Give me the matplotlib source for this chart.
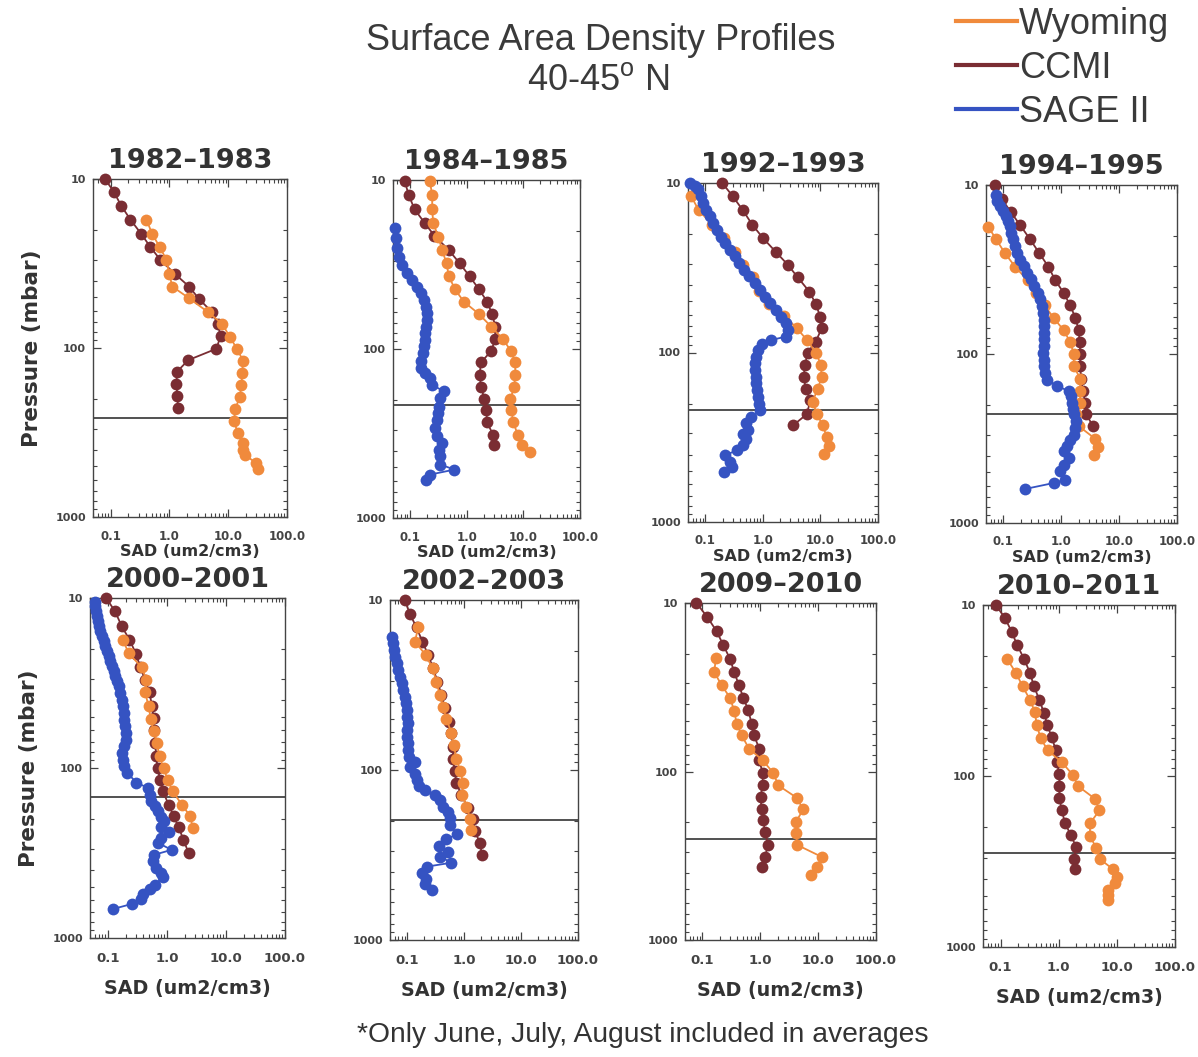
import matplotlib
matplotlib.use("Agg")
import matplotlib.pyplot as plt
from matplotlib.lines import Line2D
from matplotlib.ticker import NullFormatter

plt.rcParams['font.family'] = ['DejaVu Sans']
plt.rcParams['mathtext.fontset'] = 'custom'
plt.rcParams['mathtext.rm'] = 'Liberation Sans'

# ---- data: SAD (um2/cm3) vs pressure (mbar) ----
years = ["1982–1983", "1984–1985", "1992–1993", "1994–1995",
         "2000–2001", "2002–2003", "2009–2010", "2010–2011"]

# tropopause pressure for each panel
tropopause = [261, 214, 217, 226, 148, 197, 250, 281]

# 1982-1983
ccmi_8283_sad = [0.080, 0.113, 0.151, 0.217, 0.33, 0.475, 0.70, 1.23, 2.16, 3.2, 5.2, 6.7, 7.4, 6.3, 2.08, 1.35, 1.31, 1.37, 1.39]
ccmi_8283_p = [10, 11.9, 14.4, 17.4, 21.1, 25.3, 30.1, 36.4, 43.3, 51.4, 60.9, 72.5, 85, 101, 118, 138, 164, 193, 228]
wy_8283_sad = [0.406, 0.51, 0.685, 0.89, 0.99, 1.12, 2.16, 4.55, 7.9, 10.6, 14.2, 17.9, 17.3, 16.8, 15.7, 13.1, 12.6, 14.4, 17.9, 17.5, 19.6, 29.4, 32.7]
wy_8283_p = [17.4, 21.2, 25.3, 30.1, 36.4, 43.3, 50.8, 61.4, 72, 85.8, 101.6, 119, 140, 166, 195, 231, 270, 318, 366, 402, 431, 478, 520]

# 1984-1985
ccmi_8485_sad = [0.080, 0.095, 0.12, 0.18, 0.27, 0.48, 0.75, 1.13, 1.63, 2.29, 2.80, 3.2, 3.2, 2.69, 1.79, 1.69, 1.79, 2.05, 2.22, 2.29, 2.92, 3.07]
ccmi_8485_p = [10.1, 12.3, 14.9, 17.9, 21.4, 25.9, 31.1, 37.2, 44.1, 52.4, 61.9, 73.6, 87.4, 103, 120, 142, 167, 198, 231, 272, 321, 368]
wy_8485_sad = [0.223, 0.246, 0.246, 0.256, 0.313, 0.369, 0.44, 0.482, 0.615, 0.885, 1.63, 2.69, 4.38, 6.05, 7.2, 7.2, 6.9, 5.9, 6.1, 6.7, 7.9, 9.4, 12.9]
wy_8485_p = [10.1, 12.3, 14.9, 17.9, 21.6, 25.9, 31.1, 36.9, 44.1, 52.4, 61.9, 73.6, 87.4, 103, 120, 142, 167, 198, 231, 272, 321, 368, 409]
sage_8485_sad = [0.0533, 0.0556, 0.0595, 0.0636, 0.0728, 0.0893, 0.109, 0.134, 0.157, 0.175, 0.195, 0.201, 0.201, 0.195, 0.187, 0.18, 0.175, 0.171, 0.157, 0.153, 0.187, 0.223, 0.246, 0.394, 0.344, 0.321, 0.308, 0.293, 0.281, 0.293, 0.369, 0.321, 0.335, 0.344, 0.607, 0.223, 0.195]
sage_8485_p = [19.3, 22.1, 25.4, 28.4, 31.8, 35.6, 39.0, 42.7, 46.8, 51.2, 56.1, 61.4, 67.2, 73.6, 80.6, 88.3, 96.6, 106, 118, 130, 139, 149, 163, 178, 195, 219, 239, 262, 294, 329, 360, 394, 432, 483, 517, 554, 593]

# 1992-1993
ccmi_9293_sad = [0.197, 0.301, 0.45, 0.653, 1.0, 1.66, 2.72, 4.05, 6.4, 8.3, 9.9, 10.5, 8.3, 6.0, 5.4, 5.1, 5.6, 6.7, 5.8, 3.4]
ccmi_9293_p = [10, 12.0, 14.5, 17.6, 21.1, 25.4, 30.4, 36.1, 43.7, 51.7, 61.4, 71.9, 86.3, 100, 118, 140, 165, 191, 231, 268]
wy_9293_sad = [0.057, 0.077, 0.132, 0.207, 0.322, 0.45, 0.67, 0.865, 1.29, 2.35, 3.9, 5.8, 8.3, 10.2, 10.5, 8.9, 7.3, 8.7, 10.9, 12.9, 14.2, 11.6]
wy_9293_p = [12.0, 14.5, 17.6, 21.1, 25.4, 30.4, 36.1, 43.2, 51.7, 60.8, 71.9, 84.3, 100, 118, 140, 165, 195, 231, 268, 315, 357, 398]
sage_9293_sad = [0.0547, 0.065, 0.074, 0.083, 0.091, 0.104, 0.119, 0.135, 0.159, 0.189, 0.224, 0.264, 0.322, 0.383, 0.461, 0.571, 0.717, 0.875, 1.07, 1.31, 1.66, 2.08, 2.54, 2.72, 2.54, 1.40, 0.96, 0.82, 0.746, 0.717, 0.717, 0.746, 0.766, 0.787, 0.82, 0.853, 0.899, 0.627, 0.513, 0.549, 0.45, 0.513, 0.45, 0.353, 0.224, 0.264, 0.293, 0.207]
sage_9293_p = [10, 10.4, 10.9, 12.0, 13.1, 14.4, 15.7, 17.2, 18.9, 20.7, 22.6, 24.8, 27.1, 29.7, 32.5, 35.6, 39.0, 42.7, 46.8, 51.2, 56.1, 61.4, 67.3, 73.6, 80.6, 84.3, 89.1, 96.7, 106, 116, 127, 139, 152, 167, 182, 200, 219, 239, 262, 287, 301, 322, 352, 377, 404, 442, 473, 506]

# 1994-1995
ccmi_9495_sad = [0.072, 0.094, 0.135, 0.195, 0.29, 0.42, 0.60, 0.787, 1.10, 1.43, 1.75, 2.0, 2.08, 2.13, 2.13, 2.19, 2.37, 2.60, 2.71, 3.53]
ccmi_9495_p = [10, 12.1, 14.5, 17.3, 21.0, 25.4, 30.5, 36.6, 43.5, 51.6, 61.1, 72.3, 85.1, 99.4, 118, 140, 166, 195, 228, 267]
wy_9495_sad = [0.055, 0.075, 0.107, 0.16, 0.261, 0.369, 0.514, 0.736, 1.10, 1.43, 1.64, 1.64, 2.13, 2.13, 2.13, 1.82, 2.0, 3.88, 4.26, 3.63]
wy_9495_p = [17.7, 21.0, 25.4, 30.5, 36.6, 43.5, 51.6, 61.1, 72.3, 85.1, 99.4, 118, 140, 166, 195, 228, 267, 318, 355, 394]
sage_9495_sad = [0.075, 0.079, 0.088, 0.100, 0.112, 0.118, 0.128, 0.135, 0.146, 0.16, 0.175, 0.195, 0.223, 0.255, 0.299, 0.341, 0.389, 0.433, 0.463, 0.482, 0.495, 0.495, 0.495, 0.495, 0.495, 0.482, 0.495, 0.508, 0.528, 0.565, 0.841, 1.34, 1.47, 1.53, 1.59, 1.68, 1.82, 1.75, 1.64, 1.43, 1.25, 1.10, 1.34, 1.10, 0.96, 1.17, 0.736, 0.238]
sage_9495_p = [11.5, 12.4, 13.3, 14.3, 15.3, 16.3, 17.5, 19.2, 21.0, 23.0, 25.2, 27.6, 30.2, 33.0, 36.2, 39.6, 43.5, 47.5, 52.1, 57.0, 62.5, 68.4, 75.0, 82.0, 89.9, 98.4, 108, 118, 129, 142, 154, 166, 178, 195, 213, 228, 250, 274, 300, 321, 351, 376, 412, 451, 494, 554, 580, 629]

# 2000-2001
ccmi_0001_sad = [0.094, 0.133, 0.173, 0.233, 0.303, 0.354, 0.43, 0.509, 0.557, 0.595, 0.61, 0.634, 0.66, 0.695, 0.77, 0.855, 1.07, 1.30, 1.58, 1.91, 2.33]
ccmi_0001_p = [10, 12.0, 14.7, 17.6, 21.4, 25.6, 30.2, 35.9, 43.0, 50.8, 60.0, 71.3, 85.3, 100, 117, 137, 164, 191, 223, 264, 316]
wy_0001_sad = [0.18, 0.225, 0.377, 0.447, 0.43, 0.49, 0.536, 0.595, 0.677, 0.751, 0.879, 1.03, 1.25, 1.79, 2.48, 2.75]
wy_0001_p = [17.6, 21.1, 25.6, 30.2, 35.9, 43.4, 51.5, 60.8, 71.3, 85.3, 100, 117, 137, 164, 192, 225]
sage_0001_sad = [0.0596, 0.0612, 0.0637, 0.0653, 0.068, 0.0706, 0.0743, 0.0794, 0.0847, 0.0904, 0.0964, 0.103, 0.11, 0.117, 0.125, 0.133, 0.142, 0.152, 0.162, 0.173, 0.18, 0.185, 0.19, 0.197, 0.205, 0.205, 0.185, 0.173, 0.18, 0.19, 0.215, 0.306, 0.482, 0.515, 0.536, 0.626, 0.713, 0.811, 0.90, 0.791, 1.08, 0.811, 0.713, 1.20, 0.61, 0.586, 0.667, 0.811, 0.867, 0.626, 0.515, 0.397, 0.372, 0.262, 0.123]
sage_0001_p = [10.5, 11.2, 12.0, 12.8, 13.7, 14.7, 15.7, 16.8, 18.0, 19.2, 20.6, 22.0, 23.6, 25.2, 27.0, 28.9, 30.9, 33.1, 36.2, 39.6, 43.4, 47.5, 52.0, 56.9, 62.2, 68.1, 74.6, 81.6, 89.3, 97.8, 107, 122, 131, 144, 157, 168, 180, 193, 206, 222, 239, 258, 276, 303, 324, 354, 388, 415, 438, 486, 515, 549, 590, 629, 675]

# 2002-2003
ccmi_0203_sad = [0.091, 0.112, 0.146, 0.186, 0.234, 0.286, 0.341, 0.401, 0.458, 0.538, 0.60, 0.641, 0.641, 0.686, 0.734, 0.898, 1.17, 1.44, 1.54, 1.88, 2.07]
ccmi_0203_p = [10, 12.1, 14.5, 17.6, 21.1, 25.2, 30.2, 36.2, 43.4, 52, 60.9, 72.9, 86.5, 102, 120, 140, 168, 195, 227, 267, 316]
wy_0203_sad = [0.156, 0.137, 0.213, 0.279, 0.327, 0.375, 0.428, 0.49, 0.60, 0.659, 0.734, 0.863, 0.96, 0.935, 1.10, 1.29, 1.34]
wy_0203_p = [14.5, 17.6, 21.1, 25.2, 30.2, 36.2, 42.4, 50.3, 60.3, 71.2, 86.5, 102, 119, 140, 164, 195, 225]
sage_0203_sad = [0.0533, 0.0555, 0.0586, 0.0618, 0.0652, 0.0697, 0.0746, 0.0798, 0.0853, 0.0912, 0.095, 0.0976, 0.1, 0.102, 0.1, 0.1, 0.102, 0.104, 0.109, 0.137, 0.112, 0.137, 0.146, 0.163, 0.205, 0.306, 0.375, 0.428, 0.525, 0.561, 0.561, 0.754, 0.49, 0.365, 0.525, 0.375, 0.60, 0.225, 0.179, 0.213, 0.205, 0.268]
sage_0203_p = [16.4, 18.0, 19.7, 21.5, 23.6, 25.8, 28.3, 30.9, 33.8, 37.0, 40.5, 44.4, 48.6, 53.1, 58.2, 63.7, 69.7, 76.3, 83.5, 89.3, 96.5, 105, 115, 125, 131, 140, 150, 164, 176, 192, 211, 238, 256, 280, 302, 323, 351, 370, 406, 440, 469, 508]

# 2009-2010
ccmi_0910_sad = [0.079, 0.121, 0.176, 0.23, 0.299, 0.355, 0.428, 0.508, 0.621, 0.708, 0.777, 0.96, 0.96, 1.10, 1.10, 1.01, 1.05, 1.13, 1.2, 1.37, 1.2, 1.08]
ccmi_0910_p = [10, 12.1, 14.7, 17.8, 21.4, 25.7, 30.8, 36.4, 43.3, 51.9, 60.9, 73.1, 85.7, 102, 121, 141, 166, 194, 228, 273, 321, 367]
wy_0910_sad = [0.171, 0.16, 0.215, 0.299, 0.355, 0.39, 0.476, 0.637, 1.10, 1.68, 2.05, 4.25, 5.53, 4.13, 4.13, 4.36, 11.5, 9.66, 7.41]
wy_0910_p = [21.2, 25.7, 30.8, 36.4, 43.7, 51.9, 60.9, 73.1, 85.7, 102, 121, 143, 168, 199, 233, 273, 321, 371, 412]

# 2010-2011
ccmi_1011_sad = [0.083, 0.119, 0.155, 0.194, 0.253, 0.321, 0.376, 0.465, 0.559, 0.638, 0.757, 0.90, 0.924, 1.03, 1.03, 1.03, 1.13, 1.29, 1.61, 1.99, 1.84, 1.91]
ccmi_1011_p = [10, 11.9, 14.3, 17.2, 20.6, 24.9, 29.9, 35.8, 42.8, 50.1, 59.4, 70.8, 82.9, 97.1, 114, 135, 159, 189, 221, 259, 307, 352]
wy_1011_sad = [0.131, 0.184, 0.24, 0.321, 0.391, 0.418, 0.49, 0.647, 1.13, 1.74, 2.18, 4.22, 5.02, 3.46, 3.46, 4.39, 5.15, 8.74, 10.2, 9.34, 7.17, 7.17, 7.17]
wy_1011_p = [20.8, 24.9, 29.9, 35.8, 42.3, 50.1, 60.0, 70.8, 82.9, 98.4, 115, 136, 159, 189, 225, 262, 307, 352, 388, 425, 465, 498, 533]

wyoming = [(wy_8283_sad, wy_8283_p), (wy_8485_sad, wy_8485_p), (wy_9293_sad, wy_9293_p),
           (wy_9495_sad, wy_9495_p), (wy_0001_sad, wy_0001_p), (wy_0203_sad, wy_0203_p),
           (wy_0910_sad, wy_0910_p), (wy_1011_sad, wy_1011_p)]
ccmi = [(ccmi_8283_sad, ccmi_8283_p), (ccmi_8485_sad, ccmi_8485_p), (ccmi_9293_sad, ccmi_9293_p),
        (ccmi_9495_sad, ccmi_9495_p), (ccmi_0001_sad, ccmi_0001_p), (ccmi_0203_sad, ccmi_0203_p),
        (ccmi_0910_sad, ccmi_0910_p), (ccmi_1011_sad, ccmi_1011_p)]
sage = [None, (sage_8485_sad, sage_8485_p), (sage_9293_sad, sage_9293_p), (sage_9495_sad, sage_9495_p),
        (sage_0001_sad, sage_0001_p), (sage_0203_sad, sage_0203_p), None, None]

c_wy = '#F08A3C'
c_ccmi = '#7A2D33'
c_sage = '#3553C2'
txt = '#333333'

# axes boxes in pixels (left, top, right, bottom)
W, H = 1198, 1057
boxes = [(93, 179, 287, 517), (393, 180, 580, 518), (688, 183, 878, 522), (986, 185, 1177, 523),
         (90, 598, 285, 938), (390, 600, 578, 940), (685, 603, 876, 940), (983, 605, 1175, 947)]

fig = plt.figure(figsize=(W / 100, H / 100), dpi=100)


def draw_profile(ax, data, color):
    if data is None:
        return
    ax.plot(data[0], data[1], '-o', color=color, lw=1.3, ms=8.5, mew=0, clip_on=False, zorder=3)


for i, (l, t, r, b) in enumerate(boxes):
    ax = fig.add_axes([l / W, 1 - b / H, (r - l) / W, (b - t) / H])
    draw_profile(ax, ccmi[i], c_ccmi)
    draw_profile(ax, wyoming[i], c_wy)
    draw_profile(ax, sage[i], c_sage)
    ax.axhline(tropopause[i], color='#222222', lw=1.1, zorder=2)

    ax.set_xscale('log')
    ax.set_yscale('log')
    ax.set_xlim(0.05, 100)
    ax.set_ylim(1000, 10)
    ax.set_xticks([0.1, 1, 10, 100])
    ax.set_yticks([10, 100, 1000])
    ax.set_yticklabels(['10', '100', '1000'])
    ax.xaxis.set_minor_formatter(NullFormatter())
    ax.yaxis.set_minor_formatter(NullFormatter())
    row2 = i >= 4
    ax.set_xticklabels(['0.1', '1.0', '10.0', '100.0'], fontweight='bold',
                       fontsize=9.5 if row2 else 8.5, color=txt)
    for lab in ax.get_yticklabels():
        lab.set_fontweight('bold')
        lab.set_fontsize(8)
        lab.set_color(txt)
    ax.tick_params(which='both', direction='in', top=True, right=True, colors='#444444')
    ax.tick_params(which='major', length=6, width=0.9)
    ax.tick_params(which='minor', length=3, width=0.8)
    ax.tick_params(axis='x', pad=10 if row2 else 9)
    ax.tick_params(axis='y', pad=5)
    for s in ax.spines.values():
        s.set_color('#444444')
        s.set_linewidth(1.0)

    ax.set_title(years[i], fontsize=19.5, fontweight='bold', color=txt, pad=8)
    if row2:
        ax.set_xlabel('SAD (um2/cm3)', fontsize=13.8, fontweight='bold', color=txt, labelpad=10)
    else:
        ax.set_xlabel('SAD (um2/cm3)', fontsize=11.5, fontweight='bold', color=txt, labelpad=1)
    if i in (0, 4):
        ax.set_ylabel('Pressure (mbar)', fontsize=15.5, fontweight='bold', color=txt, labelpad=10)

# header
fig.text(601 / W, 1 - 40 / H, 'Surface Area Density Profiles', ha='center', va='center',
         fontsize=26, family='Liberation Sans', color='#3a3a3a')
fig.text(598 / W, 1 - 80 / H, r'40-45$^{\rm o}$ N', ha='center', va='center',
         fontsize=26, family='Liberation Sans', color='#3a3a3a')

handles = [Line2D([], [], color=c_wy, lw=3), Line2D([], [], color=c_ccmi, lw=3),
           Line2D([], [], color=c_sage, lw=3)]
fig.legend(handles, ['Wyoming', 'CCMI', 'SAGE II'], loc='upper right',
           bbox_to_anchor=(1187 / W, 1 + 11 / H), frameon=False, borderpad=0,
           handlelength=1.7, handletextpad=0.05, labelspacing=0.25,
           prop={'family': 'Liberation Sans', 'size': 26}, labelcolor='#3a3a3a')

fig.text(643 / W, 1 - 1035 / H, '*Only June, July, August included in averages',
         ha='center', va='center', fontsize=20.3, family='Liberation Sans', color='#333333')

fig.savefig('out.png', dpi=100)
